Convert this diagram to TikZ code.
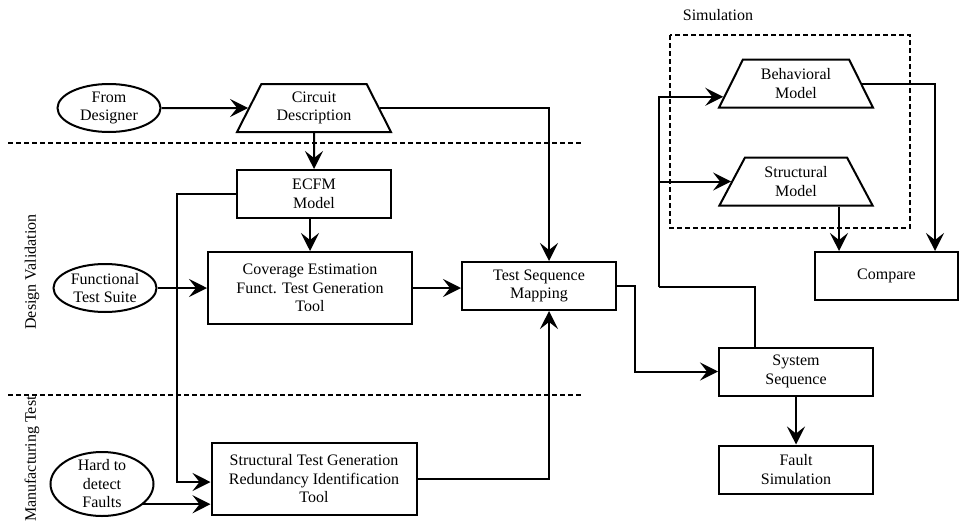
\documentclass[tikz,border=0pt]{standalone}
\usepackage{fontspec}
\setmainfont{Liberation Serif}
\usetikzlibrary{arrows.meta,positioning,shapes.geometric,calc}

\begin{document}
\begin{tikzpicture}[
  x=1pt, y=-1pt,
  font=\fontsize{16}{18.5}\selectfont,
  box/.style={draw, line width=2pt, align=center, inner sep=0pt, minimum width=154pt, minimum height=48pt},
  trap/.style={draw, line width=2pt, align=center, trapezium, trapezium angle=62, trapezium stretches=true, inner sep=0pt, minimum width=154pt, minimum height=48pt},
  src/.style={draw, ellipse, line width=2pt, align=center, inner sep=0pt, minimum width=103pt, minimum height=48pt},
  arrow/.style={-{Stealth[length=18pt, width=18pt, inset=7pt]}, line width=2pt},
  line/.style={line width=2pt},
  sep/.style={line width=1.7pt, dash pattern=on 5pt off 3pt}
]
\useasboundingbox (0,0) rectangle (960,522);

\node[src] (dsg) at (109,108) {From\\Designer};
\node[trap] (circ) at (314,108) {Circuit\\Description};
\node[box, below=36pt of circ] (ecfm) {ECFM\\Model};
\node[src] (fts) at (105,288) {Functional\\Test Suite};
\node[box, minimum width=204pt, minimum height=72pt] (cov) at (310,288) {Coverage Estimation\\Funct. Test Generation\\Tool};
\node[box] (tsm) at (539,286) {Test Sequence\\Mapping};
\node[src, minimum height=64pt, inner ysep=-5pt] (hard) at (102,484) {Hard to\\detect\\Faults};
\node[box, minimum width=205pt, minimum height=72pt] (stg) at (314,479) {Structural Test Generation\\Redundancy Identification\\Tool};

\node[trap] (beh) at (796,83.5) {Behavioral\\Model};
\node[trap, below=48pt of beh] (str) {Structural\\Model};
\node[box, minimum width=143pt] (cmp) at (886.5,276) {Compare};
\node[box] (sys) at (796,371.5) {System\\Sequence};
\node[box, below=48pt of sys] (flt) {Fault\\Simulation};

\node (simlbl) at (718,15) {Simulation};
\node[rotate=90] (dvlbl) at (32,272) {Design Validation};
\node[rotate=90] (mtlbl) at (32,459) {Manufacturing Test};

\draw[sep] (8,143) -- (583,143);
\draw[sep] (8,395) -- (583,395);
\draw[sep] (670,35) rectangle (910,228);

\coordinate (jn) at (659,287);
\coordinate (sx) at (839,0);
\coordinate (bin) at ($(beh.bottom left corner)!0.234!(beh.top left corner)$);

\draw[arrow] (dsg) -- (circ);
\draw[arrow] (circ) -- (ecfm);
\draw[arrow] (ecfm.south -| cov.north) -- (cov.north);
\draw[arrow] (fts) -- (cov);
\draw[arrow] (cov.east) -- (cov.east -| tsm.west);
\draw[arrow] (circ.east) -| ([xshift=10pt]tsm.north);
\draw[arrow] (stg.east) -| ([xshift=10pt]tsm.south);
\draw[arrow] (ecfm.west) -| (177,482) -- ([yshift=-3pt]stg.west);
\draw[arrow] (hard.-26.6) -- (stg.west |- hard.-26.6);
\draw[arrow] (tsm.east) -- ++(18,0) |- (sys.west);
\draw[line] ([xshift=-41pt]sys.north) |- (jn);
\draw[arrow] (jn) |- (bin);
\draw[arrow] (jn |- str.west) -- (str.west);
\draw[arrow] (beh.east) -| ([xshift=48.5pt]cmp.north);
\draw[arrow] (str.south -| sx) -- (cmp.north -| sx);
\draw[arrow] (sys) -- (flt);
\end{tikzpicture}
\end{document}
